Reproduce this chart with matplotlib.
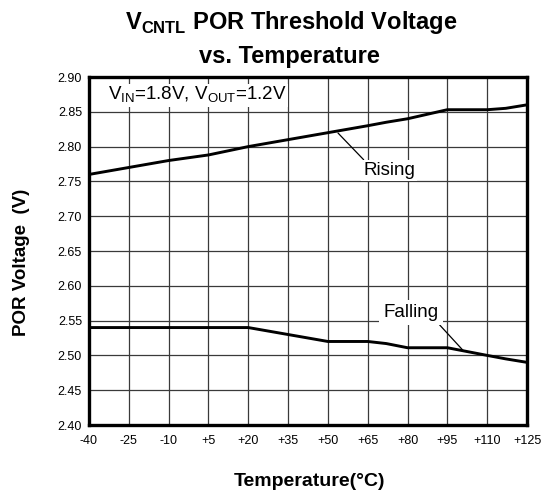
import matplotlib
matplotlib.use('Agg')
import matplotlib.pyplot as plt

plt.rcParams['font.family'] = ['Liberation Sans', 'DejaVu Sans']

# temperatures (deg C) and POR threshold readings (V)
temp = [-40, -25, -10, 5, 20, 35, 50, 65, 72, 80, 95, 110, 117, 125]
rising = [2.760, 2.770, 2.780, 2.788, 2.800, 2.810, 2.820, 2.830, 2.835, 2.840, 2.853, 2.853, 2.855, 2.860]
falling = [2.540, 2.540, 2.540, 2.540, 2.540, 2.530, 2.520, 2.520, 2.517, 2.511, 2.511, 2.500, 2.495, 2.490]

xticks = [-40, -25, -10, 5, 20, 35, 50, 65, 80, 95, 110, 125]
xlabels = ['-40', '-25', '-10', '+5', '+20', '+35', '+50', '+65', '+80', '+95', '+110', '+125']
yticks = [2.40, 2.45, 2.50, 2.55, 2.60, 2.65, 2.70, 2.75, 2.80, 2.85, 2.90]

fig = plt.figure(figsize=(5.55, 4.97), dpi=100)
ax = fig.add_axes([89 / 555, 1 - 425 / 497, 438 / 555, 348 / 497])

ax.plot(temp, rising, color='black', lw=2.1, solid_capstyle='butt', zorder=3)
ax.plot(temp, falling, color='black', lw=2.1, solid_capstyle='butt', zorder=3)

ax.set_xlim(-40, 125)
ax.set_ylim(2.40, 2.90)
ax.set_xticks(xticks)
ax.set_xticklabels(xlabels)
ax.set_yticks(yticks)
ax.set_yticklabels(['%.2f' % v for v in yticks])
ax.tick_params(axis='both', length=0, labelsize=9)
ax.tick_params(axis='x', pad=7)
ax.tick_params(axis='y', pad=5)
ax.grid(True, color='#3a3a3a', lw=0.9)
for s in ax.spines.values():
    s.set_linewidth(2.4)
    s.set_color('black')

ax.text(-32.8, 2.874, r'V$_{\mathregular{IN}}$=1.8V, V$_{\mathregular{OUT}}$=1.2V',
        fontsize=13.5, va='center', ha='left',
        bbox=dict(facecolor='white', edgecolor='none', pad=1))

ax.annotate('Rising', xy=(53.8, 2.8195), xytext=(73, 2.766),
            fontsize=13.5, ha='center', va='center',
            bbox=dict(facecolor='white', edgecolor='none', pad=1.5),
            arrowprops=dict(arrowstyle='-', color='black', lw=0.9,
                            shrinkA=0, shrinkB=0, relpos=(0.05, 1.0)))
ax.annotate('Falling', xy=(101.2, 2.506), xytext=(81.3, 2.562),
            fontsize=13.5, ha='center', va='center',
            bbox=dict(facecolor='white', edgecolor='none', pad=3),
            arrowprops=dict(arrowstyle='-', color='black', lw=0.9,
                            shrinkA=0, shrinkB=0, relpos=(0.95, 0.0)))

fig.text(291 / 555, 1 - 22 / 497, r'V$_{\mathregular{CNTL}}$ POR Threshold Voltage',
         fontsize=17, fontweight='bold', ha='center', va='center')
fig.text(289 / 555, 1 - 57 / 497, 'vs. Temperature',
         fontsize=17, fontweight='bold', ha='center', va='center')

fig.text(310 / 555, 1 - 482 / 497, 'Temperature(\u00b0C)', fontsize=14,
         fontweight='bold', ha='center', va='center')
fig.text(22 / 555, 1 - 262 / 497, 'POR Voltage  (V)', fontsize=13.5,
         fontweight='bold', ha='center', va='center', rotation=90)

fig.savefig('out.png', dpi=100)
